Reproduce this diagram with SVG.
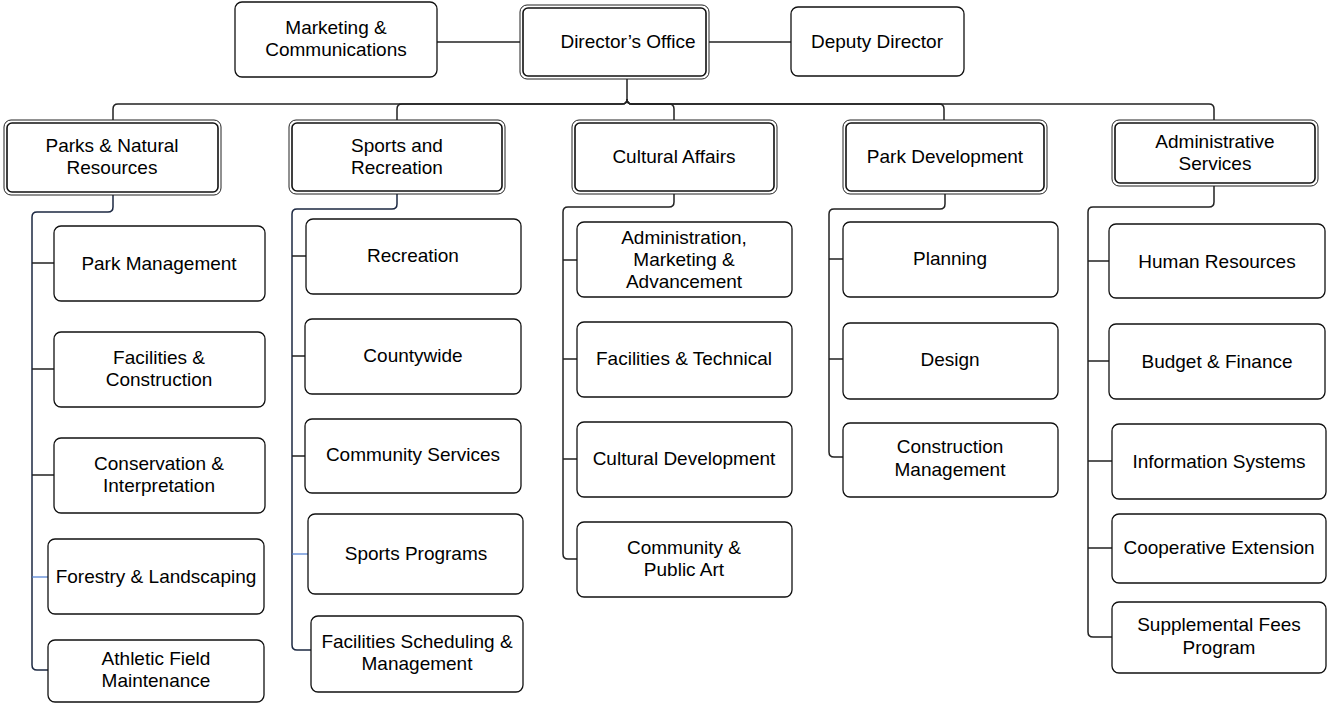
<svg xmlns="http://www.w3.org/2000/svg" width="1327" height="704" viewBox="0 0 1327 704">
<style>
.b{fill:#fff;stroke:#111;stroke-width:1.3}
.o{fill:#fff;stroke:#222;stroke-width:1}
.i{fill:none;stroke:#111;stroke-width:1.6}
.c{fill:none;stroke:#222;stroke-width:1.5}
.n{fill:none;stroke:#1c2842;stroke-width:1.5}
.bl{fill:none;stroke:#4a7bd0;stroke-width:1.2}
text{font-family:"Liberation Sans",Arial,sans-serif;font-size:19px;fill:#000;text-anchor:middle}
</style>
<g id="connectors">
<path class="c" d="M437,42 H520"/>
<path class="c" d="M709,42 H791"/>
<path class="c" d="M627,79 V99 Q627,104 622,104 H118 Q113,104 113,109 V120"/>
<path class="c" d="M627,99 Q627,104 622,104 H402 Q397,104 397,109 V120"/>
<path class="c" d="M627,99 Q627,104 632,104 H669 Q674,104 674,109 V120"/>
<path class="c" d="M627,99 Q627,104 632,104 H939 Q944,104 944,109 V120"/>
<path class="c" d="M627,99 Q627,104 632,104 H1209 Q1214,104 1214,109 V120"/>
<path class="n" d="M113,195 V207 Q113,212 108,212 H37 Q32,212 32,217 V665 Q32,670 37,670 H48"/>
<path class="c" d="M32,263 H54 M32,369 H54 M32,475 H54"/>
<path class="bl" d="M32,577 H48"/>
<path class="n" d="M397,194 V204 Q397,209 392,209 H297 Q292,209 292,214 V645 Q292,650 297,650 H311"/>
<path class="c" d="M292,256 H306 M292,356 H305 M292,456 H305"/>
<path class="bl" d="M292,554 H308"/>
<path class="c" d="M674,194 V202 Q674,207 669,207 H568 Q563,207 563,212 V554 Q563,559 568,559 H577"/>
<path class="c" d="M563,260 H577 M563,359 H577 M563,459 H577"/>
<path class="c" d="M945,194 V204 Q945,209 940,209 H834 Q829,209 829,214 V452 Q829,457 834,457 H843"/>
<path class="c" d="M829,259 H843 M829,359 H843"/>
<path class="c" d="M1214,186 V202 Q1214,207 1209,207 H1093 Q1088,207 1088,212 V632 Q1088,637 1093,637 H1112"/>
<path class="c" d="M1088,261 H1109 M1088,361 H1109 M1088,461 H1112 M1088,548 H1112"/>
</g>
<g id="marketing"><rect class="b" x="235" y="2" width="202" height="75" rx="7"/><text x="336" y="34">Marketing &amp;</text><text x="336" y="56">Communications</text></g>
<g id="director"><rect class="o" x="520" y="5" width="189" height="74" rx="7"/><rect class="i" x="523" y="8" width="183" height="68" rx="5"/><text x="628" y="48">Director’s Office</text></g>
<g id="deputy"><rect class="b" x="791" y="7" width="173" height="69" rx="7"/><text x="877" y="48">Deputy Director</text></g>

<g id="parks"><rect class="o" x="4" y="120" width="217" height="75" rx="7"/><rect class="i" x="7" y="123" width="211" height="69" rx="5"/><text x="112" y="152">Parks &amp; Natural</text><text x="112" y="174">Resources</text></g>
<g id="sports"><rect class="o" x="289" y="120" width="216" height="74" rx="7"/><rect class="i" x="292" y="123" width="210" height="68" rx="5"/><text x="397" y="152">Sports and</text><text x="397" y="174">Recreation</text></g>
<g id="cultural"><rect class="o" x="572" y="120" width="205" height="74" rx="7"/><rect class="i" x="575" y="123" width="199" height="68" rx="5"/><text x="674" y="163">Cultural Affairs</text></g>
<g id="parkdev"><rect class="o" x="843" y="120" width="204" height="74" rx="7"/><rect class="i" x="846" y="123" width="198" height="68" rx="5"/><text x="945" y="163">Park Development</text></g>
<g id="admin"><rect class="o" x="1112" y="120" width="206" height="66" rx="7"/><rect class="i" x="1115" y="123" width="200" height="60" rx="5"/><text x="1215" y="148">Administrative</text><text x="1215" y="170">Services</text></g>

<g id="park-management"><rect class="b" x="54" y="226" width="211" height="75" rx="7"/><text x="159" y="270">Park Management</text></g>
<g id="facilities-construction"><rect class="b" x="54" y="332" width="211" height="75" rx="7"/><text x="159" y="364">Facilities &amp;</text><text x="159" y="386">Construction</text></g>
<g id="conservation"><rect class="b" x="54" y="438" width="211" height="75" rx="7"/><text x="159" y="470">Conservation &amp;</text><text x="159" y="492">Interpretation</text></g>
<g id="forestry"><rect class="b" x="48" y="539" width="216" height="75" rx="7"/><text x="156" y="583">Forestry &amp; Landscaping</text></g>
<g id="athletic"><rect class="b" x="48" y="640" width="216" height="62" rx="7"/><text x="156" y="665">Athletic Field</text><text x="156" y="687">Maintenance</text></g>

<g id="recreation"><rect class="b" x="306" y="219" width="215" height="75" rx="7"/><text x="413" y="262">Recreation</text></g>
<g id="countywide"><rect class="b" x="305" y="319" width="216" height="75" rx="7"/><text x="413" y="362">Countywide</text></g>
<g id="community-services"><rect class="b" x="305" y="419" width="216" height="74" rx="7"/><text x="413" y="461">Community Services</text></g>
<g id="sports-programs"><rect class="b" x="308" y="514" width="215" height="80" rx="7"/><text x="416" y="560">Sports Programs</text></g>
<g id="facilities-scheduling"><rect class="b" x="311" y="616" width="212" height="76" rx="7"/><text x="417" y="648">Facilities Scheduling &amp;</text><text x="417" y="670">Management</text></g>

<g id="admin-marketing"><rect class="b" x="577" y="222" width="215" height="75" rx="7"/><text x="684" y="244">Administration,</text><text x="684" y="266">Marketing &amp;</text><text x="684" y="288">Advancement</text></g>
<g id="facilities-technical"><rect class="b" x="577" y="322" width="215" height="75" rx="7"/><text x="684" y="365">Facilities &amp; Technical</text></g>
<g id="cultural-development"><rect class="b" x="577" y="422" width="215" height="75" rx="7"/><text x="684" y="465">Cultural Development</text></g>
<g id="public-art"><rect class="b" x="577" y="522" width="215" height="75" rx="7"/><text x="684" y="554">Community &amp;</text><text x="684" y="576">Public Art</text></g>

<g id="planning"><rect class="b" x="843" y="222" width="215" height="75" rx="7"/><text x="950" y="265">Planning</text></g>
<g id="design"><rect class="b" x="843" y="323" width="215" height="76" rx="7"/><text x="950" y="366">Design</text></g>
<g id="construction-management"><rect class="b" x="843" y="423" width="215" height="74" rx="7"/><text x="950" y="453">Construction</text><text x="950" y="476">Management</text></g>

<g id="human-resources"><rect class="b" x="1109" y="224" width="216" height="74" rx="7"/><text x="1217" y="268">Human Resources</text></g>
<g id="budget"><rect class="b" x="1109" y="324" width="216" height="75" rx="7"/><text x="1217" y="368">Budget &amp; Finance</text></g>
<g id="information-systems"><rect class="b" x="1112" y="424" width="214" height="75" rx="7"/><text x="1219" y="468">Information Systems</text></g>
<g id="cooperative"><rect class="b" x="1112" y="514" width="214" height="69" rx="7"/><text x="1219" y="554">Cooperative Extension</text></g>
<g id="supplemental"><rect class="b" x="1112" y="602" width="214" height="71" rx="7"/><text x="1219" y="631">Supplemental Fees</text><text x="1219" y="654">Program</text></g>
</svg>
